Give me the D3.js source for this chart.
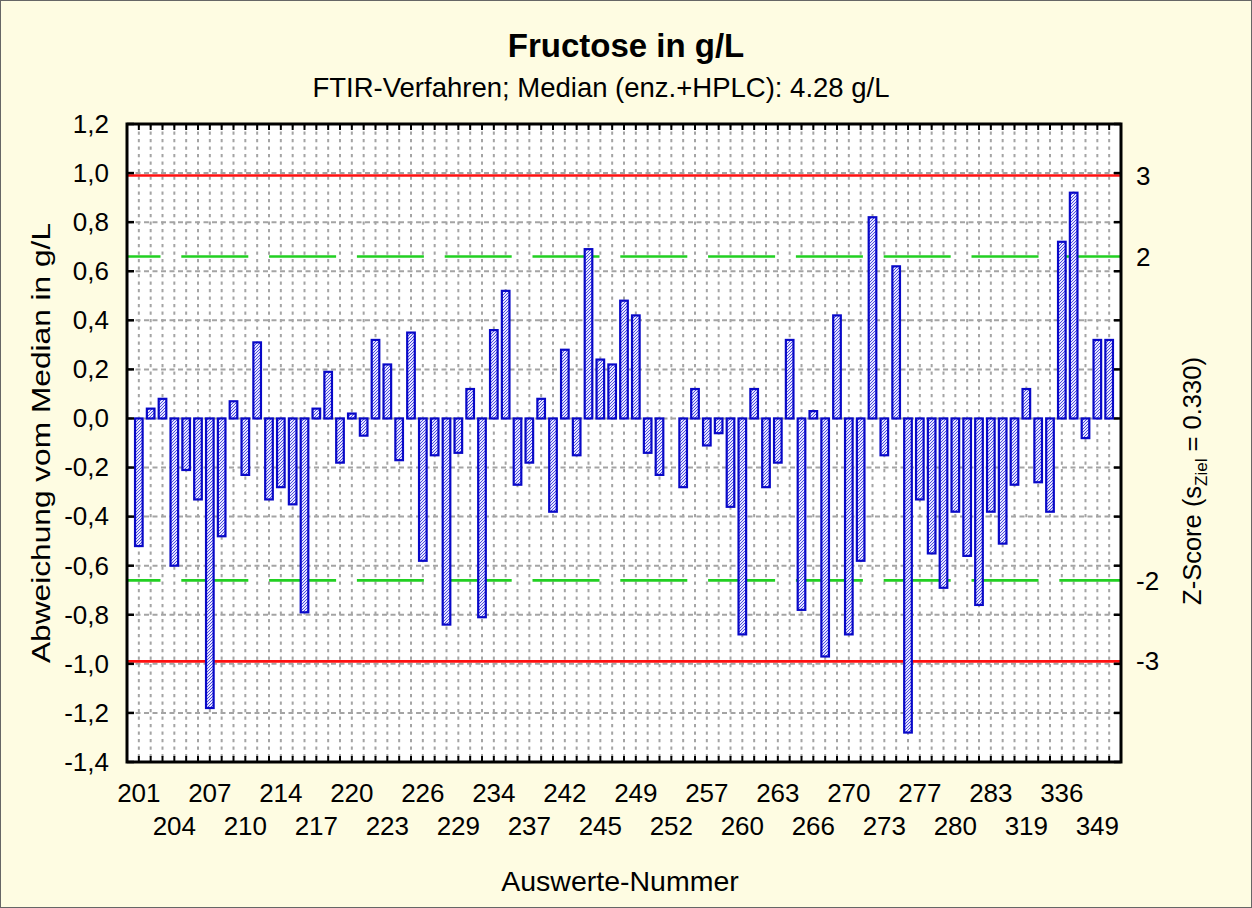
<!DOCTYPE html>
<html><head><meta charset="utf-8">
<script src="https://cdn.jsdelivr.net/npm/d3@7"></script>
<style>
html,body{margin:0;padding:0;background:#fefce2;}
svg{display:block;font-family:"Liberation Sans",Arial,Helvetica,sans-serif;}
</style></head><body>
<svg id="chart" width="1252" height="908"></svg>
<script>
const categories = [201,202,203,204,205,206,207,208,209,210,211,213,214,215,216,217,218,219,220,221,222,223,224,225,226,227,228,229,231,232,234,235,236,237,239,240,242,243,244,245,246,248,249,250,251,252,254,256,257,258,259,260,261,262,263,264,265,266,268,269,270,271,272,273,275,276,277,278,279,280,281,282,283,301,310,319,325,330,336,340,345,349,350];
const deviations = [-0.52,0.04,0.08,-0.60,-0.21,-0.33,-1.18,-0.48,0.07,-0.23,0.31,-0.33,-0.28,-0.35,-0.79,0.04,0.19,-0.18,0.02,-0.07,0.32,0.22,-0.17,0.35,-0.58,-0.15,-0.84,-0.14,0.12,-0.81,0.36,0.52,-0.27,-0.18,0.08,-0.38,0.28,-0.15,0.69,0.24,0.22,0.48,0.42,-0.14,-0.23,0.00,-0.28,0.12,-0.11,-0.06,-0.36,-0.88,0.12,-0.28,-0.18,0.32,-0.78,0.03,-0.97,0.42,-0.88,-0.58,0.82,-0.15,0.62,-1.28,-0.33,-0.55,-0.69,-0.38,-0.56,-0.76,-0.38,-0.51,-0.27,0.12,-0.26,-0.38,0.72,0.92,-0.08,0.32,0.32];
const yTicks = [1.2,1.0,0.8,0.6,0.4,0.2,0.0,-0.2,-0.4,-0.6,-0.8,-1.0,-1.2,-1.4];
const sZiel = 0.330;
const zLimits = [3,2,-2,-3];
const titleText = "Fructose in g/L";
const subtitleText = "FTIR-Verfahren; Median (enz.+HPLC): 4.28 g/L";
const xTitle = "Auswerte-Nummer";
const yTitle = "Abweichung vom Median in g/L";

const svg = d3.select("#chart");
const W = 1252, H = 908;
const L = 127, R = 1121, T = 124, B = 762;
const fontSize = 26;

svg.append("rect").attr("x",0.5).attr("y",0.5).attr("width",W-1).attr("height",H-1)
  .attr("fill","#fefce2").attr("stroke","#666").attr("stroke-width",1);

const x = d3.scaleLinear().domain([-1, categories.length]).range([L, R]);
const y = d3.scaleLinear().domain([-1.4, 1.2]).range([B, T]);

// hatch pattern
const defs = svg.append("defs");
const pat = defs.append("pattern").attr("id","hatch").attr("patternUnits","userSpaceOnUse")
  .attr("width",3).attr("height",3);
pat.append("rect").attr("width",3).attr("height",3).attr("fill","#e6e6ff");
pat.append("path").attr("d","M-1,1 L1,-1 M0,3 L3,0 M2,4 L4,2").attr("stroke","#3b3bdc").attr("stroke-width",0.9);

// plot background
svg.append("rect").attr("x",L).attr("y",T).attr("width",R-L).attr("height",B-T).attr("fill","#fff");

// grid
const g = svg.append("g");
g.selectAll("line.vg").data(categories).join("line")
  .attr("x1",(d,i)=>x(i)).attr("x2",(d,i)=>x(i)).attr("y1",T).attr("y2",B)
  .attr("stroke","#a4a4a4").attr("stroke-width",2).attr("stroke-dasharray","3.3,4.2");
g.selectAll("line.hg").data(yTicks.slice(1,-1)).join("line")
  .attr("x1",L).attr("x2",R).attr("y1",d=>y(d)).attr("y2",d=>y(d))
  .attr("stroke","#a4a4a4").attr("stroke-width",2).attr("stroke-dasharray","5,3.5");

// limit lines
const green = [2,-2].map(z=>z*sZiel), red = [3,-3].map(z=>z*sZiel);
svg.selectAll("line.gl").data(green).join("line")
  .attr("x1",L).attr("x2",R).attr("y1",d=>y(d)).attr("y2",d=>y(d))
  .attr("stroke","#22d022").attr("stroke-width",2.6)
  .attr("stroke-dasharray","67,20.8").attr("stroke-dashoffset",33.5);
svg.selectAll("line.rl").data(red).join("line")
  .attr("x1",L).attr("x2",R).attr("y1",d=>y(d)).attr("y2",d=>y(d))
  .attr("stroke","#ff1010").attr("stroke-width",2.6);

// bars
const bw = 7.6;
svg.append("g").selectAll("rect").data(deviations).join("rect")
  .attr("x",(d,i)=>x(i)-bw/2)
  .attr("y",d=>y(Math.max(0,d)))
  .attr("width",bw)
  .attr("height",d=>Math.abs(y(d)-y(0)))
  .attr("fill","url(#hatch)").attr("stroke","#0808c8").attr("stroke-width",2.2);

// axes
const fmt = d => d3.format(".1f")(d).replace(".",",").replace("−","-");
const axL = d3.axisLeft(y).tickValues(yTicks).tickSize(0).tickPadding(18).tickFormat(fmt);
const gl = svg.append("g").attr("transform",`translate(${L},0)`).call(axL);
gl.select(".domain").remove();
gl.selectAll("text").attr("font-size",fontSize).attr("fill","#000").attr("font-family","Liberation Sans, Arial, sans-serif");

// left/right ticks inward
svg.selectAll("line.lt").data(yTicks).join("line")
  .attr("x1",L).attr("x2",L+7).attr("y1",d=>y(d)).attr("y2",d=>y(d)).attr("stroke","#000").attr("stroke-width",2.5);
svg.selectAll("line.rt").data(yTicks).join("line")
  .attr("x1",R-7).attr("x2",R).attr("y1",d=>y(d)).attr("y2",d=>y(d)).attr("stroke","#000").attr("stroke-width",2.5);
// top & bottom ticks
svg.selectAll("line.tt").data(categories).join("line")
  .attr("x1",(d,i)=>x(i)).attr("x2",(d,i)=>x(i)).attr("y1",T).attr("y2",T+6).attr("stroke","#000").attr("stroke-width",2);
svg.selectAll("line.bt").data(categories).join("line")
  .attr("x1",(d,i)=>x(i)).attr("x2",(d,i)=>x(i)).attr("y1",B-6).attr("y2",B).attr("stroke","#000").attr("stroke-width",2);

// frame
svg.append("rect").attr("x",L).attr("y",T).attr("width",R-L).attr("height",B-T)
  .attr("fill","none").attr("stroke","#000").attr("stroke-width",3);

// bottom labels (every third, alternating rows)
svg.append("g").selectAll("text").data(categories.map((c,i)=>({c,i})).filter(d=>d.i%3===0)).join("text")
  .attr("x",d=>x(d.i)).attr("y",(d,k)=> k%2===0 ? 802 : 835)
  .attr("text-anchor","middle").attr("font-size",fontSize).text(d=>d.c);

// right z labels
svg.append("g").selectAll("text").data(zLimits).join("text")
  .attr("x",1136).attr("y",d=>y(d*sZiel)).attr("dy","0.35em")
  .attr("font-size",fontSize).text(d=>d<0? "-"+Math.abs(d) : d);

// titles
svg.append("text").attr("x",626).attr("y",57).attr("text-anchor","middle")
  .attr("font-size",33).attr("font-weight","bold").text(titleText);
svg.append("text").attr("x",601).attr("y",97).attr("text-anchor","middle")
  .attr("font-size",27.5).text(subtitleText);
svg.append("text").attr("x",620).attr("y",891).attr("text-anchor","middle")
  .attr("font-size",28.5).text(xTitle);
svg.append("text").attr("transform","translate(50,443) rotate(-90)").attr("text-anchor","middle")
  .attr("font-size",26).attr("textLength",440).attr("lengthAdjust","spacingAndGlyphs").text(yTitle);
const zt = svg.append("text").attr("transform","translate(1201,481) rotate(-90)").attr("text-anchor","middle")
  .attr("font-size",25.5);
zt.append("tspan").text("Z-Score (s");
zt.append("tspan").attr("font-size",17).attr("dy",6).text("Ziel");
zt.append("tspan").attr("dy",-6).text(" = " + sZiel.toFixed(3) + ")");
</script>
</body></html>
